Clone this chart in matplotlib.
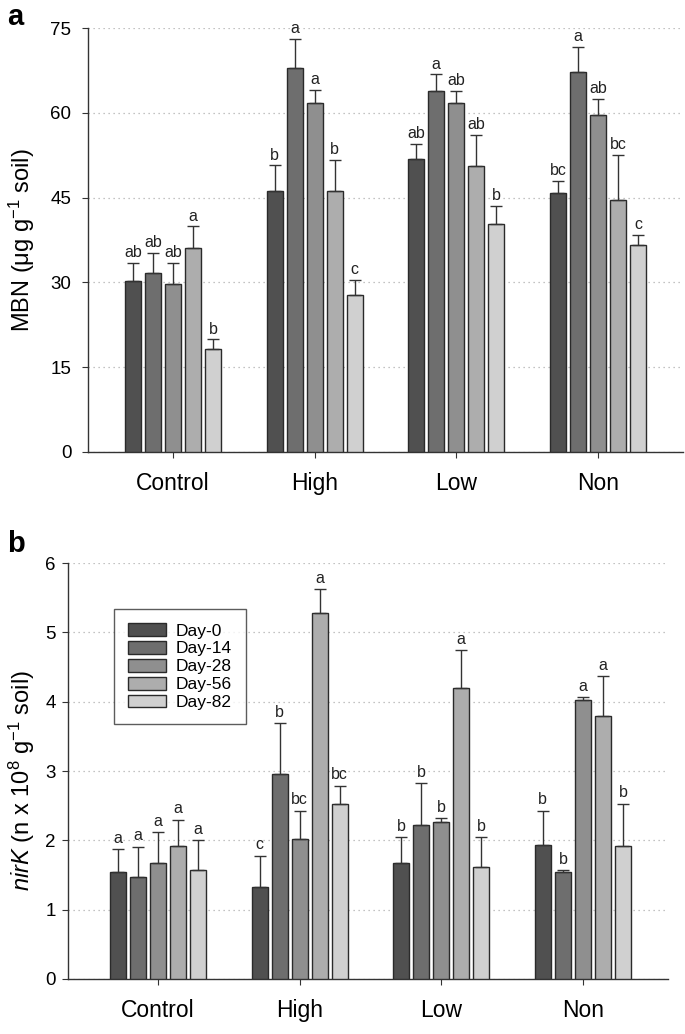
import numpy as np
import matplotlib
matplotlib.use("Agg")
import matplotlib.pyplot as plt

plt.rcParams['font.family'] = ['Liberation Sans', 'DejaVu Sans']
plt.rcParams['mathtext.fontset'] = 'custom'
plt.rcParams['mathtext.rm'] = 'Liberation Sans'
plt.rcParams['mathtext.it'] = 'Liberation Sans:italic'

groups = ["Control", "High", "Low", "Non"]
days = ["Day-0", "Day-14", "Day-28", "Day-56", "Day-82"]
colors = ["#505050", "#6e6e6e", "#8f8f8f", "#adadad", "#d0d0d0"]

# Panel a: MBN, rows = days, columns = groups
mbn = [
    [30.2, 46.1, 51.8, 45.9],
    [31.6, 67.9, 63.9, 67.2],
    [29.8, 61.8, 61.7, 59.6],
    [36.1, 46.1, 50.6, 44.6],
    [18.3, 27.7, 40.4, 36.7],
]
mbn_err = [
    [3.3, 4.6, 2.7, 2.1],
    [3.6, 5.2, 2.9, 4.4],
    [3.6, 2.2, 2.2, 2.8],
    [3.8, 5.6, 5.5, 8.0],
    [1.6, 2.8, 3.2, 1.7],
]
mbn_letters = [
    ["ab", "b", "ab", "bc"],
    ["ab", "a", "a", "a"],
    ["ab", "a", "ab", "ab"],
    ["a", "b", "ab", "bc"],
    ["b", "c", "b", "c"],
]

# Panel b: nirK
nirk = [
    [1.55, 1.33, 1.68, 1.93],
    [1.47, 2.95, 2.22, 1.54],
    [1.67, 2.02, 2.27, 4.02],
    [1.92, 5.28, 4.20, 3.80],
    [1.57, 2.53, 1.61, 1.92],
]
nirk_err = [
    [0.32, 0.45, 0.37, 0.50],
    [0.44, 0.74, 0.61, 0.03],
    [0.45, 0.41, 0.05, 0.05],
    [0.38, 0.35, 0.54, 0.57],
    [0.44, 0.26, 0.44, 0.61],
]
nirk_letters = [
    ["a", "c", "b", "b"],
    ["a", "b", "b", "b"],
    ["a", "bc", "b", "a"],
    ["a", "a", "a", "a"],
    ["a", "bc", "b", "b"],
]

fig = plt.figure(figsize=(6.85, 10.34), dpi=100)
ax1 = fig.add_axes([0.1285, 0.5629, 0.997 - 0.1285, 0.9729 - 0.5629])
ax2 = fig.add_axes([0.0993, 0.0532, 0.975 - 0.0993, 0.4555 - 0.0532])

x = np.arange(len(groups))
pitch = 0.1414
width = 0.113


def draw(ax, vals, errs, letters, ylim, yticks, off, ypad):
    for i in range(len(days)):
        xs = x + (i - 2) * pitch
        v = np.array(vals[i])
        e = np.array(errs[i])
        ax.bar(xs, v, width, color=colors[i], edgecolor="#2a2a2a",
               linewidth=1.0, label=days[i], zorder=3)
        ax.errorbar(xs, v, yerr=[np.zeros_like(e), e], fmt="none",
                    ecolor="#333333", elinewidth=1.0, capsize=4.3,
                    capthick=1.0, zorder=4)
        for j in range(len(groups)):
            ax.text(xs[j], v[j] + e[j] + off, letters[i][j], ha="center",
                    va="bottom", fontsize=11.5, color="#222222", zorder=5)
    ax.set_ylim(*ylim)
    ax.set_yticks(yticks)
    ax.set_xticks(x)
    ax.set_xticklabels(groups, fontsize=16.5)
    ax.tick_params(axis="y", labelsize=13.5, direction="out", length=4.5,
                   color="#333333", pad=ypad)
    ax.tick_params(axis="x", direction="out", length=4.5, color="#333333",
                   pad=10)
    for s in ["top", "right"]:
        ax.spines[s].set_visible(False)
    for s in ["left", "bottom"]:
        ax.spines[s].set_color("#333333")
        ax.spines[s].set_linewidth(1.0)
    ax.yaxis.grid(True, linestyle=(0, (1, 3)), color="#b0b0b0",
                  linewidth=0.9, zorder=0)
    ax.set_axisbelow(True)


draw(ax1, mbn, mbn_err, mbn_letters, (0, 75), [0, 15, 30, 45, 60, 75], 0.5, 7.5)
ax1.set_xlim(-0.6, 3.6)
ax1.set_ylabel(r"MBN (μg g$^{-1}$ soil)", fontsize=17)
ax1.yaxis.set_label_coords(-0.0857, 0.5)

draw(ax2, nirk, nirk_err, nirk_letters, (0, 6), [0, 1, 2, 3, 4, 5, 6], 0.045, 4.5)
ax2.set_xlim(-0.635, 3.6)
ax2.set_ylabel(r"$\it{nirK}$ (n x 10$^{8}$ g$^{-1}$ soil)", fontsize=17)
ax2.yaxis.set_label_coords(-0.052, 0.476)

leg = ax2.legend(loc="upper left", bbox_to_anchor=(0.077, 0.889),
                 fontsize=12.5, frameon=True, fancybox=False,
                 edgecolor="#333333", borderpad=0.8, handlelength=2.2,
                 handleheight=0.76, labelspacing=0.14, handletextpad=0.55,
                 borderaxespad=0)
leg.get_frame().set_linewidth(1.0)

fig.text(0.010, 0.997, "a", fontsize=21, fontweight="bold", va="top")
fig.text(0.010, 0.487, "b", fontsize=21, fontweight="bold", va="top")

fig.savefig("out.png", dpi=100)
